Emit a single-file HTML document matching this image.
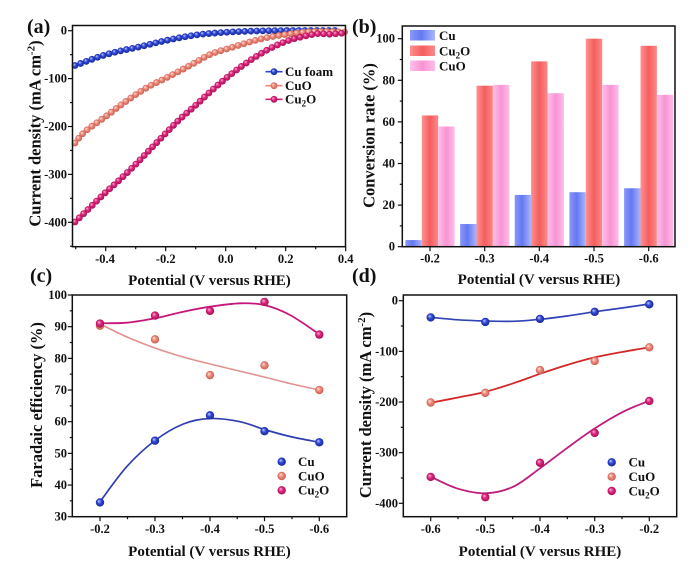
<!DOCTYPE html>
<html><head><meta charset="utf-8">
<style>
html,body{margin:0;padding:0;background:#fff;}
svg{display:block;}
text{font-family:"Liberation Serif","DejaVu Serif",serif;font-weight:bold;fill:#111;}
.tk{font-size:12.5px;}
.lg{font-size:13px;}
.ax{font-size:15px;}
.ay{font-size:16.5px;}
.pl{font-size:20px;}
</style></head>
<body>
<svg id="s" width="692" height="577" viewBox="0 0 692 577" xmlns="http://www.w3.org/2000/svg">
<defs>
 <radialGradient id="gB" cx="0.5" cy="0.5" r="0.55" fx="0.35" fy="0.32">
  <stop offset="0" stop-color="#c8d0ff"/><stop offset="0.45" stop-color="#3048d8"/><stop offset="1" stop-color="#16248a"/></radialGradient>
 <radialGradient id="gS" cx="0.5" cy="0.5" r="0.55" fx="0.35" fy="0.32">
  <stop offset="0" stop-color="#ffe6de"/><stop offset="0.45" stop-color="#ef8a7a"/><stop offset="1" stop-color="#c0584c"/></radialGradient>
 <radialGradient id="gM" cx="0.5" cy="0.5" r="0.55" fx="0.35" fy="0.32">
  <stop offset="0" stop-color="#ffb8dc"/><stop offset="0.45" stop-color="#e0267f"/><stop offset="1" stop-color="#9a0e4c"/></radialGradient>
 <linearGradient id="bB" x1="0" x2="1" y1="0" y2="0">
  <stop offset="0" stop-color="#8a98f8"/><stop offset="0.45" stop-color="#6478f2"/><stop offset="1" stop-color="#aab6fb"/></linearGradient>
 <linearGradient id="bR" x1="0" x2="1" y1="0" y2="0">
  <stop offset="0" stop-color="#ff9090"/><stop offset="0.5" stop-color="#f45e5e"/><stop offset="1" stop-color="#fb8a8a"/></linearGradient>
 <linearGradient id="bP" x1="0" x2="1" y1="0" y2="0">
  <stop offset="0" stop-color="#ffc0ea"/><stop offset="0.5" stop-color="#f794d4"/><stop offset="1" stop-color="#ffbde8"/></linearGradient>
</defs>

<g id="content"></g>

<!-- Panel labels -->
<text class="pl" x="27" y="33">(a)</text>
<text class="pl" x="352" y="33">(b)</text>
<text class="pl" x="30" y="282">(c)</text>
<text class="pl" x="352" y="282">(d)</text>

<!-- (a) tick labels -->
<g class="tk" text-anchor="end">
 <text x="67" y="34.7">0</text>
 <text x="67" y="82.6">-100</text>
 <text x="67" y="130.5">-200</text>
 <text x="67" y="178.4">-300</text>
 <text x="67" y="226.3">-400</text>
</g>
<g class="tk" text-anchor="middle">
 <text x="105" y="263">-0.4</text>
 <text x="165.7" y="263">-0.2</text>
 <text x="225.7" y="263">0.0</text>
 <text x="285.7" y="263">0.2</text>
 <text x="345.7" y="263">0.4</text>
</g>
<text class="ax" x="209.5" y="285" text-anchor="middle">Potential (V versus RHE)</text>
<text class="ay" transform="translate(40.5,133.5) rotate(-90)" text-anchor="middle">Current density (mA cm<tspan dy="-6" font-size="11">-2</tspan><tspan dy="6">)</tspan></text>
<!-- (a) legend text -->
<g class="lg">
 <text x="285" y="76">Cu foam</text>
 <text x="285" y="90">CuO</text>
 <text x="285" y="103.5">Cu<tspan dy="3" font-size="9">2</tspan><tspan dy="-3">O</tspan></text>
</g>

<!-- (b) tick labels -->
<g class="tk" text-anchor="end">
 <text x="395" y="250.7">0</text>
 <text x="395" y="209.1">20</text>
 <text x="395" y="167.5">40</text>
 <text x="395" y="125.9">60</text>
 <text x="395" y="84.3">80</text>
 <text x="395" y="42.7">100</text>
</g>
<g class="tk" text-anchor="middle">
 <text x="430" y="262.5">-0.2</text>
 <text x="484.7" y="262.5">-0.3</text>
 <text x="539.3" y="262.5">-0.4</text>
 <text x="594" y="262.5">-0.5</text>
 <text x="648.7" y="262.5">-0.6</text>
</g>
<text class="ax" x="539" y="284" text-anchor="middle">Potential (V versus RHE)</text>
<text class="ay" transform="translate(374.5,135.5) rotate(-90)" text-anchor="middle">Conversion rate (%)</text>
<g class="lg">
 <text x="439" y="40">Cu</text>
 <text x="439" y="55.5">Cu<tspan dy="3" font-size="9">2</tspan><tspan dy="-3">O</tspan></text>
 <text x="439" y="70.5">CuO</text>
</g>

<!-- (c) tick labels -->
<g class="tk" text-anchor="end">
 <text x="67" y="299">100</text>
 <text x="67" y="330.7">90</text>
 <text x="67" y="362.3">80</text>
 <text x="67" y="394">70</text>
 <text x="67" y="425.7">60</text>
 <text x="67" y="457.3">50</text>
 <text x="67" y="489">40</text>
 <text x="67" y="520.7">30</text>
</g>
<g class="tk" text-anchor="middle">
 <text x="100" y="533">-0.2</text>
 <text x="155" y="533">-0.3</text>
 <text x="210" y="533">-0.4</text>
 <text x="264.5" y="533">-0.5</text>
 <text x="319.3" y="533">-0.6</text>
</g>
<text class="ax" x="209.5" y="556" text-anchor="middle">Potential (V versus RHE)</text>
<text class="ay" transform="translate(42,405) rotate(-90)" text-anchor="middle">Faradaic efficiency (%)</text>
<g class="lg">
 <text x="298" y="466">Cu</text>
 <text x="298" y="480.5">CuO</text>
 <text x="298" y="494.5">Cu<tspan dy="3" font-size="9">2</tspan><tspan dy="-3">O</tspan></text>
</g>

<!-- (d) tick labels -->
<g class="tk" text-anchor="end">
 <text x="398" y="304.7">0</text>
 <text x="398" y="355.3">-100</text>
 <text x="398" y="406">-200</text>
 <text x="398" y="456.6">-300</text>
 <text x="398" y="507.3">-400</text>
</g>
<g class="tk" text-anchor="middle">
 <text x="430.7" y="533">-0.6</text>
 <text x="485.3" y="533">-0.5</text>
 <text x="540" y="533">-0.4</text>
 <text x="594.7" y="533">-0.3</text>
 <text x="649.3" y="533">-0.2</text>
</g>
<text class="ax" x="540" y="556" text-anchor="middle">Potential (V versus RHE)</text>
<text class="ay" transform="translate(371,405) rotate(-90)" text-anchor="middle">Current density (mA cm<tspan dy="-6" font-size="11">-2</tspan><tspan dy="6">)</tspan></text>
<g class="lg">
 <text x="628.5" y="466.5">Cu</text>
 <text x="628.5" y="481">CuO</text>
 <text x="628.5" y="495.5">Cu<tspan dy="3" font-size="9">2</tspan><tspan dy="-3">O</tspan></text>
</g>
</svg>

<script>
(function(){
var NS="http://www.w3.org/2000/svg";
var root=document.getElementById("content");
function el(tag,attrs,parent){var e=document.createElementNS(NS,tag);for(var k in attrs)e.setAttribute(k,attrs[k]);(parent||root).appendChild(e);return e;}
function cr(p){
  var d="M"+p[0][0]+","+p[0][1];
  for(var i=0;i<p.length-1;i++){
    var p0=p[i-1]||p[i],p1=p[i],p2=p[i+1],p3=p[i+2]||p2;
    var c1=[p1[0]+(p2[0]-p0[0])/6,p1[1]+(p2[1]-p0[1])/6];
    var c2=[p2[0]-(p3[0]-p1[0])/6,p2[1]-(p3[1]-p1[1])/6];
    d+=" C"+c1[0].toFixed(2)+","+c1[1].toFixed(2)+" "+c2[0].toFixed(2)+","+c2[1].toFixed(2)+" "+p2[0]+","+p2[1];
  }
  return d;
}
function ln(x1,y1,x2,y2,w,c){el("line",{x1:x1,y1:y1,x2:x2,y2:y2,stroke:c||"#111","stroke-width":w||1.2});}
function frame(x1,y1,x2,y2){el("rect",{x:x1,y:y1,width:x2-x1,height:y2-y1,fill:"none",stroke:"#111","stroke-width":1.5});}
function yt(x,y,major){ln(x-(major?4.5:2.5),y,x,y,1.2);}
function xt(x,y,major){ln(x,y,x,y+(major?4.5:2.5),1.2);}
function ball(x,y,r,g){el("circle",{cx:x,cy:y,r:r,fill:"url(#"+g+")"});}

/* ---------- Panel (a) ---------- */
var aL=72.5,aT=25.5,aR=345.5,aB=246.7;
function ay(J){return 30.7-0.479*J;}
function ax(V){return 225.7+300*V;}
var blue=[[75,65.5],[90,60],[103,55.5],[120,51],[140,46.7],[166,40.5],[196,35],[226,32.3],[256,31],[285,30.6],[315,30.5],[340,30.5]];
var salm=[[75,143],[85,131.5],[105,117],[125,102],[147,87.5],[166,78],[190,65.5],[210,54.5],[230,48],[263,38.5],[297,33],[320,31.5],[345,32]];
var mag=[[75,222],[90,207.5],[105,193],[120,179.5],[135,165],[150,149.5],[166,133],[180,119],[196,105],[210,92],[230,75],[250,60.5],[270,48.5],[290,40],[310,35],[320,33.5],[327,34.3],[335,33.8],[345,33]];
function dotted(pts,g,step){
  var p=el("path",{d:cr(pts),fill:"none",stroke:"none"});
  var L=p.getTotalLength();
  for(var s=0;s<=L+0.01;s+=step){var q=p.getPointAtLength(Math.min(s,L));ball(q.x,q.y,3.4,g);}
}
dotted(blue,"gB",6);
dotted(salm,"gS",6);
dotted(mag,"gM",6);
frame(aL,aT,aR,aB);
[0,-100,-200,-300,-400].forEach(function(J){yt(aL,ay(J),1);});
[-50,-150,-250,-350,-450].forEach(function(J){if(ay(J)<aB)yt(aL,ay(J),0);});
[-0.4,-0.2,0,0.2,0.4].forEach(function(V){xt(ax(V),aB,1);});
[-0.5,-0.3,-0.1,0.1,0.3].forEach(function(V){xt(ax(V),aB,0);});
[["#2b44d6","gB",71.7],["#ee8a7a","gS",85.7],["#d8207a","gM",99.3]].forEach(function(r){
  ln(265.5,r[2],282.5,r[2],1.6,r[0]); ball(274,r[2],3.4,r[1]);
});

/* ---------- Panel (b) ---------- */
var bL=402.3,bT=26,bR=675,bB=246.7;
function by(v){return 246.7-2.08*v;}
var cents=[430,484.7,539.3,594,648.7];
var cu=[3.2,10.9,24.9,26.2,28.1], c2o=[63.1,77.4,89.1,100,96.6], cuo=[57.8,77.8,73.8,77.8,73];
var bw=16.4;
cents.forEach(function(c,i){
  el("rect",{x:c-24.6,y:by(cu[i]),width:bw,height:bB-by(cu[i]),fill:"url(#bB)"});
  el("rect",{x:c-8.2,y:by(c2o[i]),width:bw,height:bB-by(c2o[i]),fill:"url(#bR)"});
  el("rect",{x:c+8.2,y:by(cuo[i]),width:bw,height:bB-by(cuo[i]),fill:"url(#bP)"});
});
frame(bL,bT,bR,bB);
[0,20,40,60,80,100].forEach(function(v){yt(bL,by(v),1);});
[10,30,50,70,90].forEach(function(v){yt(bL,by(v),0);});
cents.forEach(function(c){xt(c,bB,1);});
el("rect",{x:410,y:30,width:25,height:10.5,fill:"url(#bB)"});
el("rect",{x:410,y:45.5,width:25,height:10.5,fill:"url(#bR)"});
el("rect",{x:410,y:60.5,width:25,height:10.5,fill:"url(#bP)"});

/* ---------- Panel (c) ---------- */
var cL=72.3,cT=295,cR=346.7,cB=516.7;
function cy(v){return 516.7-3.167*(v-30);}
var cx=[100,155,210,264.5,319.3];
el("path",{d:cr([[100,324],[127,337],[155,348],[183,357],[210,364],[237,370.5],[264,377],[292,384],[319.3,390]]),fill:"none",stroke:"#e0928e","stroke-width":1.6});
el("path",{d:cr([[100,323.3],[126.7,322.7],[155,318.3],[183.3,311.7],[210,306.7],[240,303.3],[264.3,305],[290,315],[319.3,334.3]]),fill:"none",stroke:"#c8177a","stroke-width":1.8});
el("path",{d:cr([[100,501.7],[126.7,466.7],[155,440.5],[183.3,424],[210,418.5],[240,421.7],[264.3,429.5],[290,436.5],[319.3,442.3]]),fill:"none",stroke:"#2e3db0","stroke-width":1.7});
var fCu=[34.5,54,62,57,53.5], fCuO=[90.3,86,74.7,77.8,70], fC2=[91,93.5,95,97.8,87.5];
cx.forEach(function(x,i){ball(x,cy(fCuO[i]),4.2,"gS");});
cx.forEach(function(x,i){ball(x,cy(fC2[i]),4.2,"gM");});
cx.forEach(function(x,i){ball(x,cy(fCu[i]),4.2,"gB");});
frame(cL,cT,cR,cB);
[30,40,50,60,70,80,90,100].forEach(function(v){yt(cL,cy(v),1);});
[35,45,55,65,75,85,95].forEach(function(v){yt(cL,cy(v),0);});
cx.forEach(function(x){xt(x,cB,1);});
[127.5,182.5,237.2,292].forEach(function(x){xt(x,cB,0);});
ball(281.7,461.7,4.2,"gB");ball(281.7,476,4.2,"gS");ball(281.7,490.3,4.2,"gM");

/* ---------- Panel (d) ---------- */
var dL=403.3,dT=295,dR=676.7,dB=516.7;
function dy(J){return 300.7-0.5065*J;}
var dx=[430.7,485.3,540,594.7,649.3];
el("path",{d:cr([[430.7,317.3],[458,319.8],[485.7,321],[513.3,321.3],[540,319.3],[567,316],[595,311.7],[622,308],[649.3,304]]),fill:"none",stroke:"#3044b8","stroke-width":1.7});
el("path",{d:cr([[430.7,402.7],[458,397.5],[485.7,391.7],[513.3,383.3],[540,373.8],[567,365],[595,357.3],[622,352],[649.3,347.3]]),fill:"none",stroke:"#d42828","stroke-width":1.8});
el("path",{d:cr([[430.7,476.7],[456.7,488.3],[485.7,493.3],[513.3,486.7],[540,468.3],[566.7,448.3],[595,428.3],[623.3,411.7],[649.3,400.7]]),fill:"none",stroke:"#c01d7d","stroke-width":1.8});
var dCu=[-33,-42,-36,-22,-7], dCuO=[-201,-182,-137,-119,-92], dC2=[-348,-388,-320,-261,-198];
dx.forEach(function(x,i){ball(x,dy(dCu[i]),4.2,"gB");});
dx.forEach(function(x,i){ball(x,dy(dCuO[i]),4.2,"gS");});
dx.forEach(function(x,i){ball(x,dy(dC2[i]),4.2,"gM");});
frame(dL,dT,dR,dB);
[0,-100,-200,-300,-400].forEach(function(J){yt(dL,dy(J),1);});
[-50,-150,-250,-350].forEach(function(J){yt(dL,dy(J),0);});
dx.forEach(function(x){xt(x,dB,1);});
[458,512.7,567.3,622].forEach(function(x){xt(x,dB,0);});
ball(611.7,462.3,4.2,"gB");ball(611.7,476.7,4.2,"gS");ball(611.7,491,4.2,"gM");
})();
</script>
</body></html>
